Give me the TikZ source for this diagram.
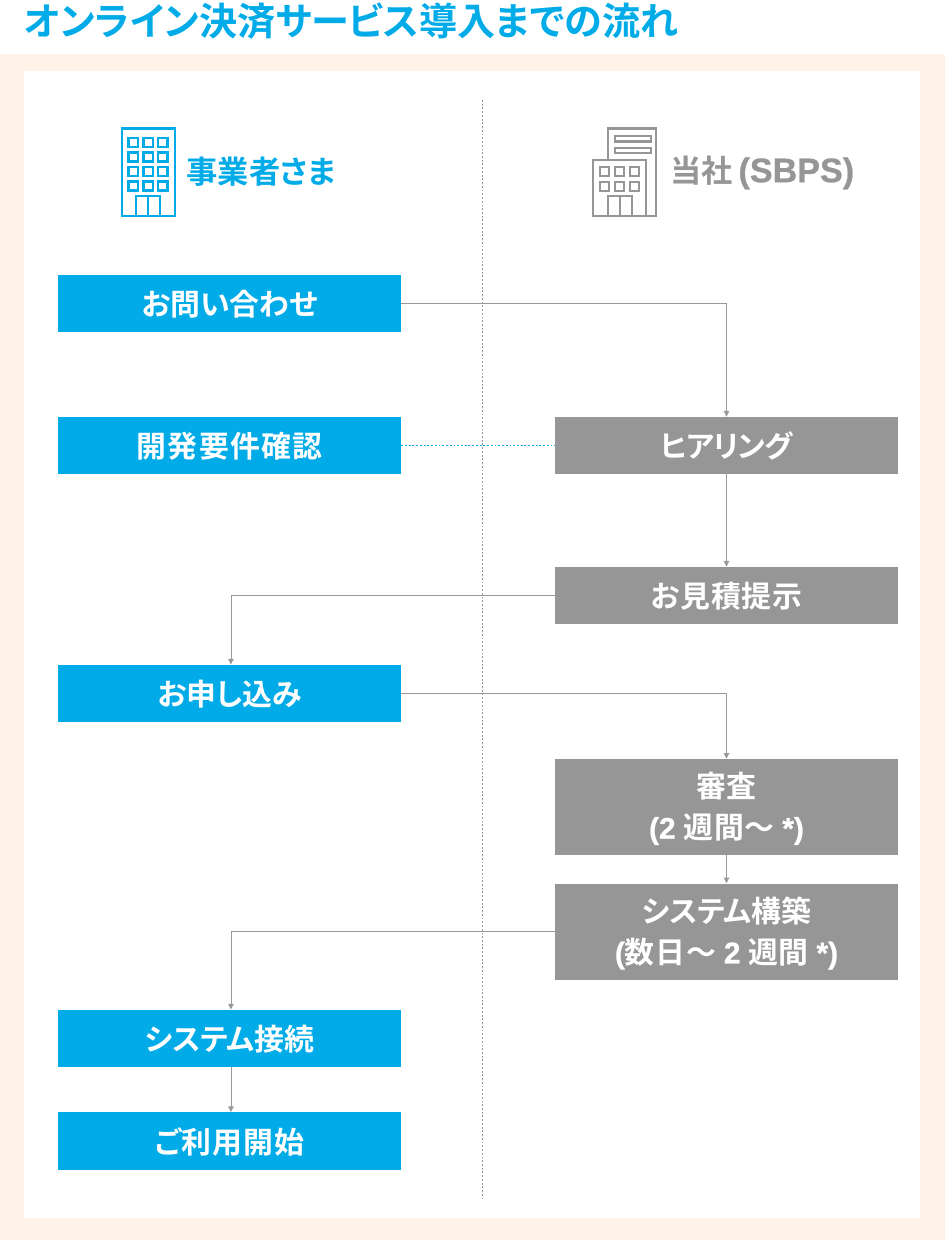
\documentclass[tikz,border=0pt]{standalone}
\usepackage{fontspec}
\setmainfont{Noto Sans CJK JP}[BoldFont={Noto Sans CJK JP Bold},RawFeature={+palt}]
\newfontfamily\latinfont{Liberation Sans}[FakeBold=0.7]
\usetikzlibrary{arrows.meta}
\definecolor{sbblue}{HTML}{00ABE8}
\definecolor{sbgray}{HTML}{969696}
\definecolor{sbframe}{HTML}{FFF2E9}
\definecolor{sbline}{HTML}{999999}
\newcommand{\boxfont}{\fontsize{22.4pt}{30.75pt}\selectfont\bfseries\addfontfeature{LetterSpace=3}}
\newcommand{\lat}[1]{{\latinfont #1}}
\newcommand{\lowtext}[2][0.4pt]{\raisebox{-#1}[\height][\depth]{#2}}
\newcommand{\spaced}[1]{\addfontfeature{LetterSpace=#1}}
\tikzset{
 x=0.75pt,y=-0.75pt,
 flowbox/.style={draw=none,minimum width=257.25pt,inner sep=0pt,text=white,align=center,font=\boxfont},
 bluebox/.style={flowbox,fill=sbblue,minimum height=43pt},
 graybox/.style={flowbox,fill=sbgray,minimum height=43pt},
 tallbox/.style={flowbox,fill=sbgray,minimum height=72pt},
 conn/.style={draw=sbline,line width=0.7pt,-{Triangle[length=4.2pt,width=4pt,fill=sbline]}},
 dotconn/.style={draw=sbblue,line width=0.6pt,dash pattern=on 1.4pt off 1.4pt},
 divider/.style={draw=sbline,line width=0.6pt,dash pattern=on 1.4pt off 1.4pt},
 iconblue/.style={draw=sbblue,line width=1.6pt},
 icongray/.style={draw=sbgray,line width=1.6pt},
 heading/.style={inner sep=0pt,anchor=west,font=\fontsize{23.4pt}{28pt}\selectfont\bfseries},
 title/.style={inner sep=0pt,anchor=west,text=sbblue,font=\fontsize{28.6pt}{32pt}\selectfont\bfseries},
}
\begin{document}
\begin{tikzpicture}
\useasboundingbox (0,0) rectangle (945,1240);
\fill[sbframe] (0,54) rectangle (945,1240);
\fill[white] (24,71) rectangle (920,1218);
\coordinate (dtop) at (482,100);
\coordinate (dbot) at (482,1198);
\draw[divider] (dtop) -- (dbot);
\node[title] (title) at (24,21) {オンライン決済サービス導入までの流れ};
% left icon
\draw[iconblue] (122,128.5) rectangle (175,216);
\foreach \xx in {128.5,143.5,158}{\foreach \yy in {138,152.5,167,181.5}{
 \draw[iconblue] (\xx,\yy) rectangle ++(9.5,9);}}
\draw[iconblue] (136,196) rectangle (160,216) (148,196) -- (148,216);
\node[heading,text=sbblue] (lhead) at (186.5,172) {事業者さま};
% right icon
\draw[icongray] (608,159) -- (608,128.5) -- (656,128.5) -- (656,216) -- (593,216) -- (593,160) -- (646,160) -- (646,216);
\draw[icongray] (615,136) rectangle (651,141.5) (615,148) rectangle (651,153);
\foreach \xx in {600,615,630}{\foreach \yy in {167,182}{
 \draw[icongray] (\xx,\yy) rectangle ++(9,9);}}
\draw[icongray] (608,196) rectangle (632,216) (620,196) -- (620,216);
\node[heading,text=sbgray] (rhead) at (670.5,172.5) {当社\hspace{4pt}{\fontsize{25.6pt}{28pt}\selectfont\lat{(SBPS)}}};
% boxes
\node[bluebox] (toi) at (229.5,303.5) {\lowtext{\spaced{0}お問い合わせ}};
\node[bluebox] (kaihatsu) at (229.5,445.5) {\lowtext{\spaced{4}開発要件確認}};
\node[graybox] (hearing) at (726.5,445.5) {\lowtext{\spaced{-3}ヒアリング}};
\node[graybox] (mitsumori) at (726.5,595.5) {\lowtext{お見積提示}};
\node[bluebox] (moushi) at (229.5,693.5) {\lowtext{\spaced{0}お申し込み}};
\node[tallbox] (shinsa) at (726.5,807) {\lowtext[1.4pt]{審査}\\\lowtext[1.2pt]{\lat{(2} 週間〜 \lat{*)}}};
\node[tallbox] (kouchiku) at (726.5,931.5) {\lowtext[1.4pt]{\spaced{0}システム構築}\\\lowtext[1.2pt]{\lat{(}数日〜 \lat{2} 週間 \lat{*)}}};
\node[bluebox] (setsuzoku) at (229.5,1038.5) {\lowtext{\spaced{0}システム接続}};
\node[bluebox] (riyou) at (229.5,1141) {\lowtext{ご利用開始}};
% connectors
\draw[conn] (toi.east) -| (hearing.north);
\draw[dotconn] (kaihatsu.east) -- (hearing.west);
\draw[conn] (hearing) -- (mitsumori);
\draw[conn] (mitsumori.west) -| ([xshift=1.1pt]moushi.north);
\draw[conn] (moushi.east) -| (shinsa.north);
\draw[conn] (shinsa) -- (kouchiku);
\draw[conn] (kouchiku.west) -| ([xshift=1.1pt]setsuzoku.north);
\draw[conn] ([xshift=1.1pt]setsuzoku.south) -- ([xshift=1.1pt]riyou.north);
\end{tikzpicture}
\end{document}
